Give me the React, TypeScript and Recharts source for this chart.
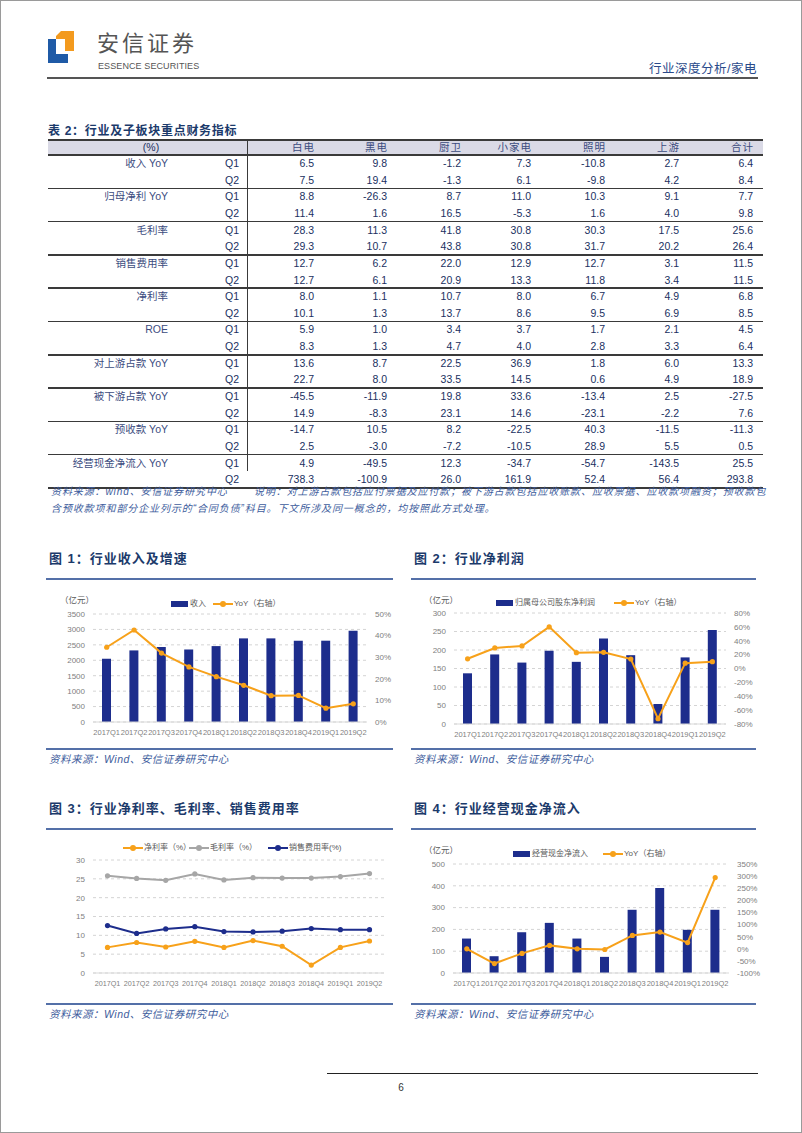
import React from "react";
import { ComposedChart, Bar, Line, XAxis, YAxis, CartesianGrid } from "recharts";

// ---- data ----
const quarters = ["2017Q1", "2017Q2", "2017Q3", "2017Q4", "2018Q1", "2018Q2", "2018Q3", "2018Q4", "2019Q1", "2019Q2"];

const revenue = [2050, 2320, 2430, 2350, 2460, 2710, 2710, 2635, 2635, 2960];
const revenueYoy = [34.6, 42.6, 31.9, 25.5, 21.0, 17.0, 12.2, 12.3, 6.4, 8.4];

const netProfit = [137, 188, 166, 198, 168, 231, 186, 54, 180, 254];
const netProfitYoy = [14.0, 29.6, 32.5, 60.0, 22.8, 23.3, 13.7, -72.4, 7.7, 9.8];

const netMargin = [6.8, 8.1, 6.9, 8.4, 6.8, 8.6, 7.1, 2.1, 6.8, 8.5];
const grossMargin = [25.8, 25.1, 24.6, 26.3, 24.7, 25.3, 25.2, 25.2, 25.6, 26.4];
const sellingRate = [12.6, 10.5, 11.7, 12.3, 11.0, 10.9, 11.1, 11.8, 11.5, 11.5];

const cashFlow = [158, 77, 187, 230, 158, 74, 290, 390, 198, 290];
const cashFlowYoy = [0, -61, -19, 14, 0, -3, 55, 69, 25.5, 293.8];

const tableCols = ["白电", "黑电", "厨卫", "小家电", "照明", "上游", "合计"];
const tableMetrics = ["收入 YoY", "归母净利 YoY", "毛利率", "销售费用率", "净利率", "ROE", "对上游占款 YoY", "被下游占款 YoY", "预收款 YoY", "经营现金净流入 YoY"];
const tableQ1 = [
  [6.5, 9.8, -1.2, 7.3, -10.8, 2.7, 6.4],
  [8.8, -26.3, 8.7, 11.0, 10.3, 9.1, 7.7],
  [28.3, 11.3, 41.8, 30.8, 30.3, 17.5, 25.6],
  [12.7, 6.2, 22.0, 12.9, 12.7, 3.1, 11.5],
  [8.0, 1.1, 10.7, 8.0, 6.7, 4.9, 6.8],
  [5.9, 1.0, 3.4, 3.7, 1.7, 2.1, 4.5],
  [13.6, 8.7, 22.5, 36.9, 1.8, 6.0, 13.3],
  [-45.5, -11.9, 19.8, 33.6, -13.4, 2.5, -27.5],
  [-14.7, 10.5, 8.2, -22.5, 40.3, -11.5, -11.3],
  [4.9, -49.5, 12.3, -34.7, -54.7, -143.5, 25.5],
];
const tableQ2 = [
  [7.5, 19.4, -1.3, 6.1, -9.8, 4.2, 8.4],
  [11.4, 1.6, 16.5, -5.3, 1.6, 4.0, 9.8],
  [29.3, 10.7, 43.8, 30.8, 31.7, 20.2, 26.4],
  [12.7, 6.1, 20.9, 13.3, 11.8, 3.4, 11.5],
  [10.1, 1.3, 13.7, 8.6, 9.5, 6.9, 8.5],
  [8.3, 1.3, 4.7, 4.0, 2.8, 3.3, 6.4],
  [22.7, 8.0, 33.5, 14.5, 0.6, 4.9, 18.9],
  [14.9, -8.3, 23.1, 14.6, -23.1, -2.2, 7.6],
  [2.5, -3.0, -7.2, -10.5, 28.9, 5.5, 0.5],
  [738.3, -100.9, 26.0, 161.9, 52.4, 56.4, 293.8],
];

const revenueData = quarters.map((q, i) => ({ q, v: revenue[i], yoy: revenueYoy[i] }));
const profitData = quarters.map((q, i) => ({ q, v: netProfit[i], yoy: netProfitYoy[i] }));
const marginData = quarters.map((q, i) => ({ q, net: netMargin[i], gross: grossMargin[i], selling: sellingRate[i] }));
const cashData = quarters.map((q, i) => ({ q, v: cashFlow[i], yoy: cashFlowYoy[i] }));

const FONT = "'Liberation Sans', 'Noto Sans CJK SC', sans-serif";
const NAVY = "#1d2d8c";
const ORANGE = "#f7a11a";
const GRAY = "#a6a6a6";
const TITLE = "#1b3a6b";
const RULE = "#5470a8";
const AXIS = "#808080";
const NUM = "#20305f";

// absolute text, y = vertical centre
function Txt({ x, y, size, color, children, anchor = "start", weight = 400, italic = false, spacing = 0 }: any) {
  const style: React.CSSProperties = {
    position: "absolute",
    top: y - size * 0.7,
    height: size * 1.4,
    lineHeight: `${size * 1.4}px`,
    fontSize: size,
    color,
    fontWeight: weight,
    fontStyle: italic ? "italic" : "normal",
    letterSpacing: spacing,
    whiteSpace: "nowrap",
    fontFamily: FONT,
  };
  if (anchor === "start") style.left = x;
  if (anchor === "end") { style.left = x - 400; style.width = 400; style.textAlign = "right"; }
  if (anchor === "middle") { style.left = x - 200; style.width = 400; style.textAlign = "center"; }
  return <div style={style}>{children}</div>;
}

function HLine({ x1, x2, y, color, w }: any) {
  return <div style={{ position: "absolute", left: x1, top: y - w / 2, width: x2 - x1, height: w, background: color }} />;
}

function LegendBar({ x, y, label }: any) {
  return (
    <>
      <div style={{ position: "absolute", left: x, top: y - 3, width: 17, height: 6, background: NAVY }} />
      <Txt x={x + 19} y={y} size={8} color="#595959">{label}</Txt>
    </>
  );
}

function LegendLine({ x, y, color, label }: any) {
  return (
    <>
      <div style={{ position: "absolute", left: x, top: y - 1, width: 20, height: 2, background: color }} />
      <div style={{ position: "absolute", left: x + 7, top: y - 3, width: 6, height: 6, borderRadius: 3, background: color }} />
      <Txt x={x + 21} y={y} size={8} color="#595959">{label}</Txt>
    </>
  );
}

function Section({ x1, x2, y, title }: any) {
  return (
    <>
      <Txt x={x1 + 3} y={y} size={13} color={TITLE} weight={700} spacing={1}>{title}</Txt>
      <HLine x1={x1} x2={x2} y={y + 20} color={RULE} w={2} />
    </>
  );
}

function Source({ x1, x2, y }: any) {
  return (
    <>
      <HLine x1={x1} x2={x2} y={y} color={RULE} w={1.5} />
      <Txt x={x1 + 3} y={y + 10} size={10.5} color="#3d5c9c" italic spacing={0.5}>资料来源：Wind、安信证券研究中心</Txt>
    </>
  );
}

const tickStyle = { fontSize: 8, fill: AXIS, fontFamily: FONT };
const xTickStyle = { fontSize: 7.5, fill: AXIS, fontFamily: FONT };

function BarLineChart({ left, top, width, height, data, leftW, rightW, leftDomain, leftTicks, rightDomain, rightTicks }: any) {
  return (
    <div style={{ position: "absolute", left, top }}>
      <ComposedChart width={width} height={height} data={data} margin={{ top: 5, right: 0, bottom: 0, left: 0 }}>
        <CartesianGrid yAxisId="l" vertical={false} stroke="#d4d4d4" strokeDasharray="3 3" />
        <XAxis dataKey="q" interval={0} tick={xTickStyle} tickLine={false} axisLine={{ stroke: "#d9d9d9" }} />
        <YAxis yAxisId="l" width={leftW} domain={leftDomain} ticks={leftTicks} interval={0} tick={tickStyle} axisLine={false} tickLine={false} />
        <YAxis yAxisId="r" orientation="right" width={rightW} domain={rightDomain} ticks={rightTicks} interval={0} tick={tickStyle} axisLine={false} tickLine={false} tickFormatter={(v: number) => `${v}%`} />
        <Bar yAxisId="l" dataKey="v" fill={NAVY} barSize={9} isAnimationActive={false} />
        <Line yAxisId="r" dataKey="yoy" stroke={ORANGE} strokeWidth={2} dot={{ r: 2.6, fill: ORANGE, stroke: ORANGE, strokeWidth: 0 }} isAnimationActive={false} />
      </ComposedChart>
    </div>
  );
}

function MarginChart() {
  const dot = (c: string) => ({ r: 2.6, fill: c, stroke: c, strokeWidth: 0 });
  return (
    <div style={{ position: "absolute", left: 45, top: 854 }}>
      <ComposedChart width={355} height={148} data={marginData} margin={{ top: 5, right: 17, bottom: 0, left: 0 }}>
        <CartesianGrid vertical={false} stroke="#d4d4d4" strokeDasharray="3 3" />
        <XAxis dataKey="q" interval={0} padding={{ left: 14.5, right: 14.5 }} tick={{ ...xTickStyle, fontSize: 7.2 }} tickLine={false} axisLine={{ stroke: "#d9d9d9" }} />
        <YAxis width={47} domain={[0, 30]} ticks={[0, 5, 10, 15, 20, 25, 30]} interval={0} tick={tickStyle} axisLine={false} tickLine={false} />
        <Line dataKey="gross" stroke={GRAY} strokeWidth={2} dot={dot(GRAY)} isAnimationActive={false} />
        <Line dataKey="selling" stroke={NAVY} strokeWidth={2} dot={dot(NAVY)} isAnimationActive={false} />
        <Line dataKey="net" stroke={ORANGE} strokeWidth={2} dot={dot(ORANGE)} isAnimationActive={false} />
      </ComposedChart>
    </div>
  );
}

function Table() {
  const rowH = 16.65;
  const top0 = 154;
  const colRight = [313, 386, 460, 530, 604, 678, 752];
  const items: React.ReactNode[] = [];
  tableMetrics.forEach((m, g) => {
    const y1 = top0 + 2 * g * rowH + rowH / 2;
    const y2 = y1 + rowH;
    items.push(<Txt key={`m${g}`} x={167} y={y1} size={10.5} color="#3c4c80" anchor="end">{m}</Txt>);
    items.push(<Txt key={`q1${g}`} x={231} y={y1} size={10.5} color={NUM} anchor="middle">Q1</Txt>);
    items.push(<Txt key={`q2${g}`} x={231} y={y2} size={10.5} color={NUM} anchor="middle">Q2</Txt>);
    tableQ1[g].forEach((v, c) => items.push(<Txt key={`a${g}-${c}`} x={colRight[c]} y={y1} size={10.5} color={NUM} anchor="end">{v.toFixed(1)}</Txt>));
    tableQ2[g].forEach((v, c) => items.push(<Txt key={`b${g}-${c}`} x={colRight[c]} y={y2} size={10.5} color={NUM} anchor="end">{v.toFixed(1)}</Txt>));
    items.push(<HLine key={`l${g}`} x1={47} x2={762} y={top0 + 2 * (g + 1) * rowH} color="#3a3a3a" w={1.5} />);
  });
  return (
    <>
      <Txt x={47} y={130} size={12} color={TITLE} weight={700} spacing={0.7}>表 2：行业及子板块重点财务指标</Txt>
      <div style={{ position: "absolute", left: 47, top: 138, width: 715, height: 16, background: "#dadae6" }} />
      <HLine x1={47} x2={762} y={138.5} color="#3a3a3a" w={2} />
      <HLine x1={47} x2={762} y={154} color="#3a3a3a" w={1.5} />
      <div style={{ position: "absolute", left: 245.5, top: 138, width: 1.2, height: top0 + 19 * rowH - 138, background: "#3a3a3a" }} />
      <Txt x={150} y={146.5} size={10.5} color={NUM} anchor="middle">(%)</Txt>
      {tableCols.map((c, i) => (
        <Txt key={c} x={colRight[i] + 1} y={146.5} size={10.5} color="#3c4c80" anchor="end" spacing={1}>{c}</Txt>
      ))}
      {items}
      <Txt x={50} y={491} size={10} color="#3d5c9c" italic spacing={0.9}>资料来源：wind、安信证券研究中心</Txt>
      <Txt x={253} y={491} size={10} color="#3d5c9c" italic spacing={0.9}>说明：对上游占款包括应付票据及应付款；被下游占款包括应收账款、应收票据、应收款项融资；预收款包</Txt>
      <Txt x={50} y={508} size={10} color="#3d5c9c" italic spacing={0.9}>含预收款项和部分企业列示的“合同负债”科目。下文所涉及同一概念的，均按照此方式处理。</Txt>
    </>
  );
}

export default function App() {
  return (
    <div style={{ position: "relative", width: 802, height: 1133, background: "#fff", border: "1px solid #9a9a9a", boxSizing: "border-box", overflow: "hidden", fontFamily: FONT }}>
      <style>{"body{margin:0}"}</style>

      {/* header */}
      <svg style={{ position: "absolute", left: 0, top: 0 }} width={90} height={70}>
        <polygon points="47,38 55,38 55,53 67,53 67,62 47,62" fill="#1f5aa6" />
        <polygon points="55,35 60,30 73,30 73,50 64,50 64,38 55,38" fill="#f39a1e" />
      </svg>
      <Txt x={96} y={43} size={22} color="#555" spacing={3}>安信证券</Txt>
      <Txt x={97} y={65.5} size={9} color="#555" spacing={0.1}>ESSENCE SECURITIES</Txt>
      <Txt x={756} y={69} size={12.5} color="#2a4a8a" anchor="end" spacing={0.5}>行业深度分析/家电</Txt>
      <HLine x1={46} x2={757} y={77} color="#555" w={2} />

      <Table />

      {/* 图 1 */}
      <Section x1={45} x2={392} y={558} title="图 1：行业收入及增速" />
      <Txt x={59} y={600} size={8.5} color="#595959">（亿元）</Txt>
      <LegendBar x={170} y={603} label="收入" />
      <LegendLine x={212} y={603} color={ORANGE} label="YoY（右轴）" />
      <BarLineChart left={45} top={608} width={355} height={143} data={revenueData} leftW={47} rightW={34}
        leftDomain={[0, 3500]} leftTicks={[0, 500, 1000, 1500, 2000, 2500, 3000, 3500]}
        rightDomain={[0, 50]} rightTicks={[0, 10, 20, 30, 40, 50]} />
      <Source x1={45} x2={392} y={748} />

      {/* 图 2 */}
      <Section x1={410} x2={755} y={558} title="图 2：行业净利润" />
      <Txt x={423} y={600} size={8.5} color="#595959">（亿元）</Txt>
      <LegendBar x={495} y={602} label="归属母公司股东净利润" />
      <LegendLine x={613} y={602} color={ORANGE} label="YoY（右轴）" />
      <BarLineChart left={410} top={607} width={355} height={146} data={profitData} leftW={43} rightW={40}
        leftDomain={[0, 300]} leftTicks={[0, 50, 100, 150, 200, 250, 300]}
        rightDomain={[-80, 80]} rightTicks={[-80, -60, -40, -20, 0, 20, 40, 60, 80]} />
      <Source x1={410} x2={755} y={748} />

      {/* 图 3 */}
      <Section x1={45} x2={392} y={808} title="图 3：行业净利率、毛利率、销售费用率" />
      <LegendLine x={122} y={847} color={ORANGE} label="净利率（%）" />
      <LegendLine x={188} y={847} color={GRAY} label="毛利率（%）" />
      <LegendLine x={267} y={847} color={NAVY} label="销售费用率(%)" />
      <MarginChart />
      <Source x1={45} x2={392} y={1003} />

      {/* 图 4 */}
      <Section x1={410} x2={755} y={808} title="图 4：行业经营现金净流入" />
      <Txt x={423} y={850} size={8.5} color="#595959">（亿元）</Txt>
      <LegendBar x={512} y={853} label="经营现金净流入" />
      <LegendLine x={602} y={853} color={ORANGE} label="YoY（右轴）" />
      <BarLineChart left={410} top={858} width={360} height={144} data={cashData} leftW={42} rightW={42}
        leftDomain={[0, 500]} leftTicks={[0, 100, 200, 300, 400, 500]}
        rightDomain={[-100, 350]} rightTicks={[-100, -50, 0, 50, 100, 150, 200, 250, 300, 350]} />
      <Source x1={410} x2={755} y={1003} />

      {/* footer */}
      <HLine x1={326} x2={757} y={1072} color="#222" w={1} />
      <Txt x={400} y={1087} size={10} color="#333" anchor="middle">6</Txt>
    </div>
  );
}
